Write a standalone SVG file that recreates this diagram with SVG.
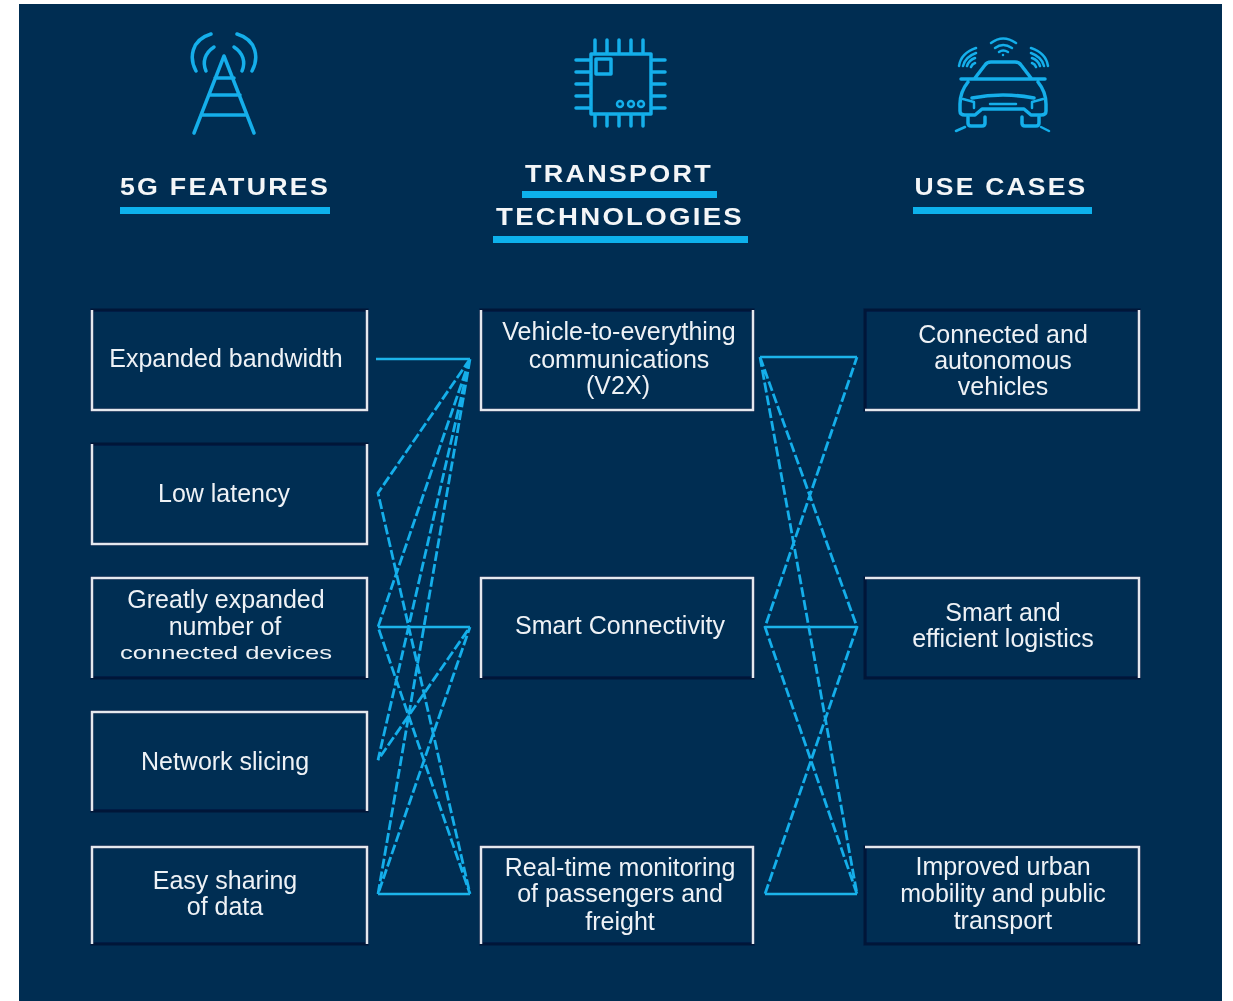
<svg xmlns="http://www.w3.org/2000/svg" width="1233" height="1001" viewBox="0 0 1233 1001">
<defs>
<filter id="soft" x="-5%" y="-5%" width="110%" height="110%"><feGaussianBlur stdDeviation="0.6"/></filter>
</defs>
<style>
.box{fill:#002d52;stroke:#001238;stroke-width:3}
.edge{fill:none;stroke:#e4e8ee;stroke-width:2.500}
.t{font-family:"Liberation Sans",Arial,sans-serif;font-size:25px;fill:#eef2f6;text-anchor:middle}
.h{font-family:"Liberation Sans",Arial,sans-serif;font-size:24px;font-weight:bold;fill:#f4f6f8;text-anchor:middle;letter-spacing:2px}
.bar{fill:#0db1ec}
.s{fill:none;stroke:#1cb4ea;stroke-width:2.500}
.d{fill:none;stroke:#12aeea;stroke-width:2.800;stroke-dasharray:10 3}
.i{fill:none;stroke:#12aeea;stroke-width:3.500;stroke-linecap:round;stroke-linejoin:round}
.i2{fill:none;stroke:#12aeea;stroke-width:2.500;stroke-linecap:round;stroke-linejoin:round}
</style>
<rect x="19" y="4" width="1203" height="997" fill="#002d52"/>
<g filter="url(#soft)">
<g id="icon-tower">
<path class="i" d="M194 133L224 56L254 133M215 78H234M209 95H240M202 115H247"/>
<path class="i" d="M214 47C205 53 202 62 206 71M234 47C243 53 246 62 242 71"/>
<path class="i" d="M211 34C191 40 189 58 196 71M237 34C257 40 259 58 252 71"/>
</g>
<g id="icon-chip">
<rect class="i" x="591" y="54" width="60" height="60"/>
<rect class="i" x="596" y="59" width="15" height="15"/>
<path class="i" d="M595 40V53M607 40V53M619 40V53M631 40V53M643 40V53M595 115V126M607 115V126M619 115V126M631 115V126M643 115V126M576 60H590M576 72H590M576 84H590M576 96H590M576 108H590M652 60H665M652 72H665M652 84H665M652 96H665M652 108H665"/>
<circle class="i2" cx="620" cy="104" r="3"/><circle class="i2" cx="631" cy="104" r="3"/><circle class="i2" cx="641" cy="104" r="3"/>
</g>
<g id="icon-car">
<path class="i" d="M975 78L985 65Q987 62 991 62H1015Q1019 62 1021 65L1031 78M961 79H1045M968 82Q960 92 960 104V111Q960 115 965 115H975L982 109H1024L1031 115H1041Q1046 115 1046 111V104Q1046 92 1038 82M972 98Q1003 92 1034 98"/>
<path class="i2" d="M963 99L974 102L974 108M1043 99L1032 102L1032 108M990 104H1016"/>
<path class="i" d="M968 117V123Q968 126 971 126H982Q985 126 985 123V117M1022 117V123Q1022 126 1025 126H1036Q1039 126 1039 123V117"/>
<path class="i2" d="M965 127L956 131M1041 127L1049 131"/>
<path class="i2" d="M991 43Q1003 34 1016 43M995 48Q1003 42 1012 48M999 52Q1003 49 1008 52M1003 55V55"/>
<path class="i2" d="M959 66Q961 53 976 48M963 66Q965 57 976 53M967 66Q969 60 975 58M971 67Q972 64 975 63M1048 66Q1046 53 1031 48M1044 66Q1042 57 1031 53M1040 66Q1038 60 1032 58M1036 67Q1035 64 1032 63"/>
</g>
</g>

<g filter="url(#soft)">
<g id="head-features"><text class="h" x="225" y="195" textLength="210" lengthAdjust="spacingAndGlyphs">5G FEATURES</text><rect class="bar" x="120" y="207" width="210" height="7"/></g>
<g id="head-transport"><text class="h" x="619" y="182" textLength="188" lengthAdjust="spacingAndGlyphs">TRANSPORT</text><rect class="bar" x="522" y="191" width="195" height="7"/><text class="h" x="620" y="225" textLength="248" lengthAdjust="spacingAndGlyphs">TECHNOLOGIES</text><rect class="bar" x="493" y="236" width="255" height="7"/></g>
<g id="head-cases"><text class="h" x="1001" y="195" textLength="173" lengthAdjust="spacingAndGlyphs">USE CASES</text><rect class="bar" x="913" y="207" width="179" height="7"/></g>

<g id="connectors">
<path class="s" d="M376 359H470M378 627H470M378 894H470M760 357H857M765 627H857M765 894H857"/>
<path class="d" d="M470 359L378 493L470 894M470 359L378 627L470 894M470 359L378 760L470 627M470 359L378 894L470 627"/>
<path class="d" d="M760 357L857 627L765 894M760 357L857 894L765 627L857 357"/>
</g>

<g id="n1"><rect class="box" x="92" y="310" width="275" height="100"/><path class="edge" d="M92 310V410H367V310"/><text class="t" x="226" y="367">Expanded bandwidth</text></g>
<g id="n2"><rect class="box" x="92" y="444" width="275" height="100"/><path class="edge" d="M92 444V544H367V444"/><text class="t" x="224" y="502">Low latency</text></g>
<g id="n3"><rect class="box" x="92" y="578" width="275" height="100"/><path class="edge" d="M92 678V578H367V678"/><text class="t" x="226" y="608">Greatly expanded</text><text class="t" x="225" y="635">number of</text><text class="t" x="226" y="659" style="font-size:19px" textLength="212" lengthAdjust="spacingAndGlyphs">connected devices</text></g>
<g id="n4"><rect class="box" x="92" y="712" width="275" height="99"/><path class="edge" d="M92 811V712H367V811"/><text class="t" x="225" y="770">Network slicing</text></g>
<g id="n5"><rect class="box" x="92" y="847" width="275" height="97"/><path class="edge" d="M92 944V847H367V944"/><text class="t" x="225" y="889">Easy sharing</text><text class="t" x="225" y="915">of data</text></g>

<g id="m1"><rect class="box" x="481" y="310" width="272" height="100"/><path class="edge" d="M481 310V410H753V310"/><text class="t" x="619" y="340">Vehicle-to-everything</text><text class="t" x="619" y="368">communications</text><text class="t" x="618" y="394">(V2X)</text></g>
<g id="m2"><rect class="box" x="481" y="578" width="272" height="100"/><path class="edge" d="M481 678V578H753V678"/><text class="t" x="620" y="634">Smart Connectivity</text></g>
<g id="m3"><rect class="box" x="481" y="847" width="272" height="97"/><path class="edge" d="M481 944V847H753V944"/><text class="t" x="620" y="876">Real-time monitoring</text><text class="t" x="620" y="902">of passengers and</text><text class="t" x="620" y="930">freight</text></g>

<g id="r1"><rect class="box" x="865" y="310" width="274" height="100"/><path class="edge" d="M865 410H1139V310"/><text class="t" x="1003" y="343">Connected and</text><text class="t" x="1003" y="369">autonomous</text><text class="t" x="1003" y="395">vehicles</text></g>
<g id="r2"><rect class="box" x="865" y="578" width="274" height="100"/><path class="edge" d="M865 578H1139V678"/><text class="t" x="1003" y="621">Smart and</text><text class="t" x="1003" y="647">efficient logistics</text></g>
<g id="r3"><rect class="box" x="865" y="847" width="274" height="97"/><path class="edge" d="M865 847H1139V944"/><text class="t" x="1003" y="875">Improved urban</text><text class="t" x="1003" y="902">mobility and public</text><text class="t" x="1003" y="929">transport</text></g>
</g>
</svg>
